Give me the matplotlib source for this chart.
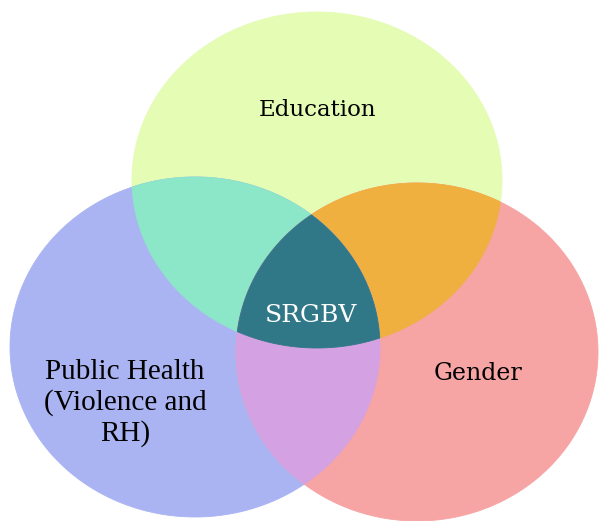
import numpy as np
import matplotlib
matplotlib.use("Agg")
import matplotlib.pyplot as plt
from matplotlib.patches import Polygon

# Set names and labels
set_names = ["Education", "Public Health", "Gender"]
set_labels = ["Education", "Public Health\n(Violence and\nRH)", "Gender"]
center_label = "SRGBV"

# Region colours
region_colors = {
    "E": "#e4fcb4",
    "P": "#aab4f2",
    "G": "#f6a4a4",
    "EP": "#8ce6c8",
    "EG": "#f0b040",
    "PG": "#d4a2e2",
    "EPG": "#307888",
}

# Geometry (pixel coordinates, y downward)
W, H = 601, 521
ellipses = {
    "E": (317, 180, 185, 168),
    "P": (195, 347, 185, 170),
    "G": (417, 352, 181, 169),
}


def ellipse_poly(cx, cy, rx, ry, n=720):
    t = np.linspace(0, 2 * np.pi, n, endpoint=False)
    return np.column_stack([cx + rx * np.cos(t), cy + ry * np.sin(t)])


def clip(subject, clipper):
    def inside(p, a, b):
        return (b[0] - a[0]) * (p[1] - a[1]) - (b[1] - a[1]) * (p[0] - a[0]) >= 0

    def inter(p1, p2, a, b):
        x1, y1 = p1; x2, y2 = p2; x3, y3 = a; x4, y4 = b
        d = (x1 - x2) * (y3 - y4) - (y1 - y2) * (x3 - x4)
        if d == 0:
            return p2
        t = ((x1 - x3) * (y3 - y4) - (y1 - y3) * (x3 - x4)) / d
        return (x1 + t * (x2 - x1), y1 + t * (y2 - y1))

    out = [tuple(p) for p in subject]
    n = len(clipper)
    for i in range(n):
        a = clipper[i]; b = clipper[(i + 1) % n]
        inp = out
        out = []
        if not inp:
            break
        s = inp[-1]
        for e in inp:
            if inside(e, a, b):
                if not inside(s, a, b):
                    out.append(inter(s, e, a, b))
                out.append(e)
            elif inside(s, a, b):
                out.append(inter(s, e, a, b))
            s = e
    return np.array(out)


polys = {k: ellipse_poly(*v) for k, v in ellipses.items()}
regions = {
    "E": polys["E"],
    "P": polys["P"],
    "G": polys["G"],
    "EP": clip(polys["E"], polys["P"]),
    "EG": clip(polys["E"], polys["G"]),
    "PG": clip(polys["P"], polys["G"]),
}
regions["EPG"] = clip(regions["EP"], polys["G"])

fig = plt.figure(figsize=(W / 100, H / 100), dpi=100)
ax = fig.add_axes([0, 0, 1, 1])
ax.set_xlim(0, W)
ax.set_ylim(H, 0)
ax.axis("off")

for key in ["E", "P", "G", "EP", "EG", "PG", "EPG"]:
    ax.add_patch(Polygon(regions[key], closed=True, facecolor=region_colors[key],
                         edgecolor=region_colors[key], linewidth=0.6, antialiased=True))

ax.text(318, 110, set_labels[0], ha="center", va="center", fontsize=16.5,
        family="DejaVu Serif", color="black")
ax.text(125, 403, set_labels[1], ha="center", va="center", fontsize=21,
        family="Liberation Serif", color="black", linespacing=1.2, multialignment="center")
ax.text(478, 373, set_labels[2], ha="center", va="center", fontsize=17,
        family="DejaVu Serif", color="black")
ax.text(311, 316, center_label, ha="center", va="center", fontsize=18,
        family="DejaVu Serif", color="white")

fig.savefig("out.png", dpi=100)
